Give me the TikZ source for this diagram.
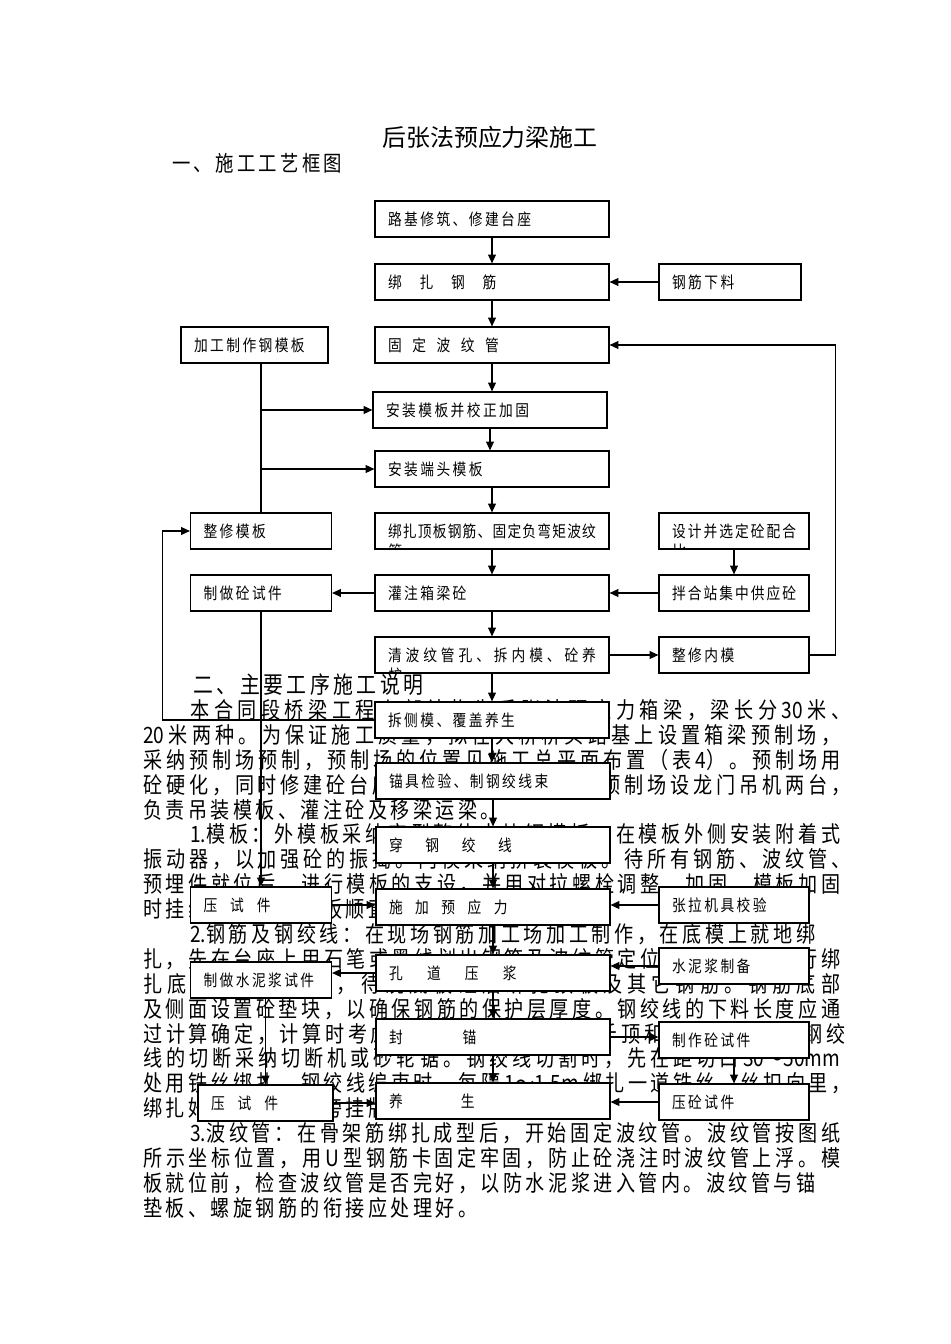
\documentclass[tikz,border=0pt]{standalone}
\usepackage{fontspec}
\usepackage{tikz}
\usetikzlibrary{arrows.meta}

\newfontfamily\cjk[FakeStretch=0.85]{Noto Sans CJK SC}
\newfontfamily\hei{Noto Sans CJK SC}
\newcommand\bodyfont{\cjk\fontsize{12.8pt}{15pt}\selectfont}
\newcommand\boxfont{\cjk\fontsize{9.2pt}{11pt}\selectfont}
\newcommand\jline[2]{\hbox to #1{#2}}

% clases de caracteres CJK y espacio entre ellos
\newcount\cjkc
\cjkc="4E00
\loop
  \XeTeXcharclass\cjkc=1
  \advance\cjkc by 1
\ifnum\cjkc<"A000 \repeat
\XeTeXcharclass"FF5E=1
\XeTeXcharclass"FF08=2
\XeTeXcharclass"3001=3 \XeTeXcharclass"3002=3 \XeTeXcharclass"FF0C=3
\XeTeXcharclass"FF1A=3 \XeTeXcharclass"FF09=3

\XeTeXinterchartokenstate=1
\newcommand\cjkglue{\hskip 0.15em plus 1em minus 0.15em\relax}
\XeTeXinterchartoks 1 1 = {\cjkglue}
\XeTeXinterchartoks 1 2 = {\cjkglue}
\XeTeXinterchartoks 1 3 = {\cjkglue}
\XeTeXinterchartoks 2 1 = {\cjkglue}
\XeTeXinterchartoks 2 2 = {\cjkglue}
\XeTeXinterchartoks 3 1 = {\cjkglue}
\XeTeXinterchartoks 3 2 = {\cjkglue}
\XeTeXinterchartoks 3 3 = {\cjkglue}

\begin{document}
\begin{tikzpicture}[
        x=0.02cm, y=-0.02cm,
        blk/.style={rectangle, draw=black, fill=white, line width=0.7pt, inner xsep=0.26cm, inner ysep=0pt, minimum height=0.72cm, align=left, font=\boxfont},
        cbox/.style={blk, text width=4.16cm},
        lbox/.style={blk, text width=2.30cm},
        rbox/.style={blk, text width=2.48cm},
        spill/.style={path picture={\node[anchor=west, inner sep=0pt, font=\boxfont] at ([xshift=0.26cm, yshift=-0.4cm]path picture bounding box.west) {#1};}},
        body/.style={anchor=west, inner sep=0pt, font=\bodyfont},
        wire/.style={draw, line width=0.6pt},
        arr/.style={draw, line width=0.6pt, -{Triangle[length=5pt, width=4.5pt]}}
    ]
        \useasboundingbox (0,0) rectangle (950,1344);

        % Titulos
        \node[font={\XeTeXinterchartokenstate=0 \hei\fontsize{13.6pt}{16pt}\selectfont}] (title) at (490,137) {后张法预应力梁施工};
        \node[body, font=\cjk\fontsize{12.3pt}{15pt}\selectfont] (h1) at (172,163) {一、施工工艺框图};
        \node[body, font=\cjk\fontsize{13.3pt}{16pt}\selectfont] (h2) at (193,685) {二、主要工序施工说明};

        % Texto (queda debajo de las cajas)
        \node[body] (t1) at (190,710) {\jline{13.2cm}{本合同段桥梁工程上部结构为后张法预应力箱梁，梁长分 30 米、}};
        \node[body] (t2) at (143,734.9) {\jline{13.94cm}{20 米两种。为保证施工质量，拟在大桥桥头路基上设置箱梁预制场，}};
        \node[body] (t3) at (143,759.8) {\jline{13.94cm}{采纳预制场预制，预制场的位置见施工总平面布置（表 4）。预制场用}};
        \node[body] (t4) at (143,784.7) {\jline{14.14cm}{砼硬化，同时修建砼台座及存梁台座若干个，预制场设龙门吊机两台，}};
        \node[body] (t5) at (143,809.6) {负责吊装模板、灌注砼及移梁运梁。};
        \node[body] (t6) at (190,834.5) {\jline{13.0cm}{1.模板：外模板采纳定型整体大块钢模板，在模板外侧安装附着式}};
        \node[body] (t7) at (143,859.4) {\jline{14.14cm}{振动器，以加强砼的振捣。内模采纳拼装模板。待所有钢筋、波纹管、}};
        \node[body] (t8) at (143,884.3) {\jline{13.94cm}{预埋件就位后，进行模板的支设，并用对拉螺栓调整、加固，模板加固}};
        \node[body] (t9) at (143,909.2) {时挂线校正，使模板顺直、接缝严密不漏浆。};
        \node[body] (t10) at (190,934.1) {\jline{12.5cm}{2.钢筋及钢绞线：在现场钢筋加工场加工制作，在底模上就地绑}};
        \node[body] (t11) at (143,959) {\jline{13.94cm}{扎，先在台座上用石笔或墨线划出钢筋及波纹管定位线，然后再进行绑}};
        \node[body] (t12) at (143,983.9) {\jline{13.94cm}{扎底板及腹板钢筋，待浇底板砼后绑扎顶板及其它钢筋。钢筋底部}};
        \node[body] (t13) at (143,1008.8) {\jline{13.94cm}{及侧面设置砼垫块，以确保钢筋的保护层厚度。钢绞线的下料长度应通}};
        \node[body] (t14) at (143,1033.7) {\jline{14.04cm}{过计算确定，计算时考虑孔道长度、锚具、千斤顶和工作长度等。钢绞}};
        \node[body] (t15) at (143,1058.6) {\jline{13.94cm}{线的切断采纳切断机或砂轮锯。钢绞线切割时，先在距切口 30～50mm}};
        \node[body] (t16) at (143,1083.5) {\jline{14.14cm}{处用铁丝绑扎，钢绞线编束时，每隔 1～1.5m 绑扎一道铁丝，丝扣向里，}};
        \node[body] (t17) at (143,1108.4) {绑扎好的钢绞线束旁挂牌标识，分类存放。};
        \node[body] (t18) at (190,1133.3) {\jline{13.0cm}{3.波纹管：在骨架筋绑扎成型后，开始固定波纹管。波纹管按图纸}};
        \node[body] (t19) at (143,1158.2) {\jline{13.94cm}{所示坐标位置，用 U 型钢筋卡固定牢固，防止砼浇注时波纹管上浮。模}};
        \node[body] (t20) at (143,1183.1) {\jline{13.44cm}{板就位前，检查波纹管是否完好，以防水泥浆进入管内。波纹管与锚}};
        \node[body] (t21) at (143,1208) {垫板、螺旋钢筋的衔接应处理好。};

        % Columna central
        \node[cbox] (b1) at (492,219) {路基修筑、修建台座};
        \node[cbox] (b2) at (492,282) {绑\hspace{1.1em}扎\hspace{1.1em}钢\hspace{1.1em}筋};
        \node[cbox] (b3) at (492,345) {固\hspace{0.65em}定\hspace{0.65em}波\hspace{0.65em}纹\hspace{0.65em}管};
        \node[cbox] (b4) at (490,410) {安装模板并校正加固};
        \node[cbox] (b5) at (492,469) {安装端头模板};
        \node[cbox, spill=管] (b6) at (492,531) {\jline{\hsize}{绑扎顶板钢筋、固定负弯矩波纹}};
        \node[cbox] (b7) at (492,593) {灌注箱梁砼};
        \node[cbox, spill=护] (b8) at (492,655) {\jline{\hsize}{清波纹管孔、拆内模、砼养}};
        \node[cbox] (b9) at (492,720) {拆侧模、覆盖养生};
        \node[cbox] (b10) at (493,781) {锚具检验、制钢绞线束};
        \node[cbox] (b11) at (493,845) {穿\hspace{1.4em}钢\hspace{1.4em}绞\hspace{1.4em}线};
        \node[cbox] (b12) at (493,907) {施\hspace{0.77em}加\hspace{0.77em}预\hspace{0.77em}应\hspace{0.77em}力};
        \node[cbox] (b13) at (493,973) {孔\hspace{1.5em}道\hspace{1.5em}压\hspace{1.5em}浆};
        \node[cbox] (b14) at (493,1037) {封\hspace{3.7em}锚};
        \node[cbox] (b15) at (493,1101) {养\hspace{3.6em}生};

        % Columna izquierda
        \node[blk, text width=2.42cm] (a1) at (254.5,345) {加工制作钢模板};
        \node[lbox] (a2) at (261,531) {整修模板};
        \node[lbox] (a3) at (261,593) {制做砼试件};
        \node[lbox] (a4) at (261,905) {压\hspace{0.8em}试\hspace{0.8em}件};
        \node[lbox] (a5) at (261,980) {制做水泥浆试件};
        \node[blk, text width=2.18cm] (a6) at (265.5,1103) {压\hspace{0.8em}试\hspace{0.8em}件};

        % Columna derecha
        \node[blk, text width=2.32cm] (c1) at (730,282) {钢筋下料};
        \node[rbox, spill=比] (c2) at (734,531) {\jline{\hsize}{设计并选定砼配合}};
        \node[rbox] (c3) at (734,593) {拌合站集中供应砼};
        \node[rbox] (c4) at (734,655) {整修内模};
        \node[rbox] (c5) at (734,905) {张拉机具校验};
        \node[rbox] (c6) at (734,966) {水泥浆制备};
        \node[rbox] (c7) at (734,1040) {制作砼试件};
        \node[rbox] (c8) at (734,1102) {压砼试件};

        % Flechas de la linea principal
        \foreach \u/\v in {b1/b2, b2/b3, b3/b4, b4/b5, b5/b6, b6/b7, b7/b8, b8/b9, b9/b10, b10/b11, b11/b12, b12/b13, b13/b14, b14/b15}
            \draw[arr] (\u.south) -- (\u.south |- \v.north);

        % Entradas y salidas laterales
        \draw[arr] (c1.west) -- (b2.east);
        \draw[arr] (c2) -- (c3);
        \draw[arr] (c3.west) -- (b7.east);
        \draw[arr] (b7.west) -- (a3.east);
        \draw[arr] (b8.east) -- (c4.west);
        \draw[arr] (c5.west) -- (c5.west -| b12.east);
        \draw[arr] (a4.east) -- (a4.east -| b12.west);
        \draw[arr] (c6.west) -- (c6.west -| b13.east);
        \draw[arr] (b13.west) -- (b13.west -| a5.east);
        \draw[arr] (b14.east) -- (b14.east -| c7.west);
        \draw[arr] (c7) -- (c8);
        \draw[arr] (a6.east) -- (a6.east -| b15.west);
        \draw[arr] (c8.west) -- (c8.west -| b15.east);
        \draw[arr] (a3) -- (a4);
        \draw[arr] (a5.south -| a6.north) -- (a6.north);

        % Moldes
        \draw[wire] (a2.north) -- (a2.north |- a1.south);
        \draw[arr] (a2.north |- b4.west) -- (b4.west);
        \draw[arr] (a2.north |- b5.west) -- (b5.west);

        % Retornos
        \draw[arr] (c4.east) -- ++(26,0) |- (b3.east);
        \draw[arr] (b9.west) -- ++(-212,0) |- (a2.west);

    \end{tikzpicture}
\end{document}
